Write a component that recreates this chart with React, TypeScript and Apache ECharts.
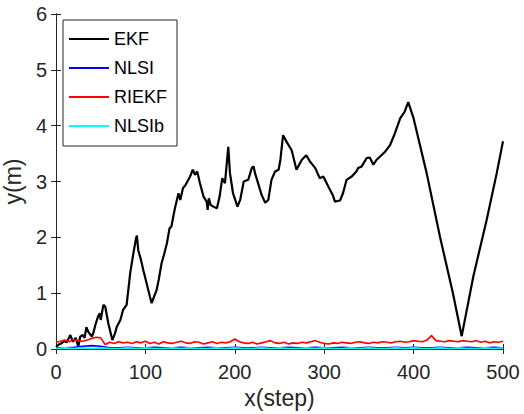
import React, { useEffect, useRef } from "react";
import * as echarts from "echarts";

const seriesNames = ["EKF", "NLSI", "RIEKF", "NLSIb"];
const seriesColors = ["#000000", "#0000ff", "#ff0000", "#00ffff"];

const xTicks = [0, 100, 200, 300, 400, 500];
const yTicks = [0, 1, 2, 3, 4, 5, 6];

// EKF: [step, y]
const ekf: [number, number][] = [
  [0, 0.04], [3, 0.08], [6, 0.1], [9, 0.14], [12, 0.12], [16, 0.25], [19, 0.13], [22, 0.2],
  [25, 0.04], [27, 0.22], [30, 0.25], [32, 0.2], [34, 0.39], [36, 0.31], [40, 0.22], [42, 0.3],
  [44, 0.43], [47, 0.58], [49, 0.64], [50, 0.52], [53, 0.79], [55, 0.76], [58.5, 0.46], [63, 0.16],
  [66, 0.28], [68, 0.4], [72, 0.52], [75, 0.7], [79, 0.79], [83, 1.36], [86.5, 1.71], [89.5, 1.98],
  [90.5, 2.03], [92, 1.77], [95, 1.6], [97.7, 1.41], [101, 1.2], [105, 0.94], [107, 0.82], [110, 0.95],
  [112.6, 1.06], [115, 1.25], [118, 1.53], [121, 1.7], [124, 1.89], [127, 2.16], [129, 2.19], [133, 2.52],
  [137, 2.79], [139, 2.67], [142, 2.88], [145, 2.94], [150, 3.09], [153, 3.21], [155.5, 3.12], [158, 3.18],
  [161, 2.97], [165, 2.73], [168.5, 2.64], [169.6, 2.49], [171, 2.7], [173, 2.58], [176, 2.55], [180, 2.52],
  [183, 2.73], [186, 3.06], [189, 2.97], [192.7, 3.62], [194.6, 3.15], [198, 2.79], [203, 2.55], [206, 2.67],
  [210, 3.0], [215, 3.03], [219, 3.24], [221, 3.27], [222.6, 3.15], [226, 2.97], [230, 2.76], [234, 2.62],
  [237.5, 2.67], [241, 3.03], [245, 3.18], [249, 3.21], [251, 3.39], [254, 3.83], [258, 3.71], [263.6, 3.56],
  [269, 3.21], [275, 3.39], [280, 3.47], [284, 3.36], [290, 3.24], [295, 3.06], [299, 3.09], [304.6, 2.91],
  [309.5, 2.76], [312, 2.64], [317.7, 2.66], [321, 2.79], [325, 3.03], [330.8, 3.09], [336, 3.18], [338, 3.24],
  [342, 3.27], [347.5, 3.42], [351, 3.43], [355, 3.3], [358.7, 3.39], [364, 3.47], [368, 3.53], [373.6, 3.65],
  [379, 3.86], [385, 4.13], [390, 4.25], [394, 4.42], [400, 4.13], [414.6, 3.15], [429.5, 2.01], [444, 1.0],
  [453.8, 0.23], [466.8, 1.3], [481.7, 2.31], [493, 3.15], [500, 3.72],
];

// sampled every 5 steps from 0 to 500
const riekfValues = [
  0.12, 0.14, 0.16, 0.13, 0.17, 0.15, 0.14, 0.16, 0.19, 0.21, 0.2, 0.08, 0.12, 0.1, 0.13, 0.11, 0.12, 0.1, 0.13, 0.11,
  0.14, 0.1, 0.12, 0.09, 0.13, 0.11, 0.1, 0.12, 0.14, 0.11, 0.1, 0.13, 0.12, 0.09, 0.11, 0.13, 0.1, 0.12, 0.11, 0.13,
  0.18, 0.13, 0.11, 0.1, 0.12, 0.09, 0.11, 0.13, 0.15, 0.11, 0.1, 0.12, 0.09, 0.11, 0.1, 0.12, 0.11, 0.13, 0.15, 0.12,
  0.1, 0.09, 0.11, 0.1, 0.12, 0.11, 0.1, 0.12, 0.13, 0.11, 0.1, 0.12, 0.11, 0.13, 0.12, 0.11, 0.13, 0.14, 0.12, 0.13,
  0.15, 0.14, 0.13, 0.16, 0.24, 0.15, 0.14, 0.13, 0.15, 0.14, 0.13, 0.15, 0.14, 0.13, 0.15, 0.12, 0.14, 0.11, 0.13, 0.12,
  0.14,
];

// sampled every 10 steps from 0 to 500
const nlsiValues = [
  0.02, 0.02, 0.03, 0.05, 0.06, 0.05, 0.02, 0.02, 0.03, 0.02, 0.02, 0.03, 0.02, 0.02, 0.03, 0.02, 0.02, 0.03, 0.02, 0.02,
  0.03, 0.02, 0.02, 0.03, 0.02, 0.02, 0.03, 0.02, 0.02, 0.03, 0.02, 0.02, 0.03, 0.02, 0.02, 0.03, 0.02, 0.02, 0.03, 0.02,
  0.03, 0.02, 0.02, 0.03, 0.02, 0.02, 0.03, 0.02, 0.02, 0.03, 0.02,
];

// sampled every 10 steps from 0 to 500
const nlsibValues = [
  0.01, 0.02, 0.01, 0.02, 0.01, 0.02, 0.01, 0.01, 0.02, 0.01, 0.02, 0.01, 0.01, 0.02, 0.01, 0.02, 0.01, 0.01, 0.02, 0.01,
  0.02, 0.01, 0.01, 0.02, 0.01, 0.02, 0.01, 0.01, 0.02, 0.01, 0.02, 0.01, 0.01, 0.02, 0.01, 0.02, 0.01, 0.01, 0.02, 0.01,
  0.02, 0.01, 0.01, 0.02, 0.01, 0.02, 0.01, 0.01, 0.02, 0.01, 0.02,
];

const FONT = "'Liberation Sans', Arial, Helvetica, sans-serif";
const AX = "#262626";

export default function App() {
  const ref = useRef<HTMLDivElement>(null);
  useEffect(() => {
    if (!ref.current) return;
    const chart = echarts.init(ref.current, undefined, { renderer: "svg" });
    const toPairs = (vals: number[], step: number) => vals.map((v, i) => [i * step, v]);
    const lineData = [ekf, toPairs(nlsiValues, 10), toPairs(riekfValues, 5), toPairs(nlsibValues, 10)];
    const baseAxis = {
      type: "value" as const,
      axisLine: { show: true, lineStyle: { color: AX, width: 1 } },
      axisTick: { show: true, inside: true, length: 5, lineStyle: { color: AX } },
      splitLine: { show: false },
    };
    chart.setOption({
      animation: false,
      backgroundColor: "#ffffff",
      grid: { left: 56, top: 14, right: 21, bottom: 65, containLabel: false, outerBoundsMode: "none" },
      legend: {
        data: seriesNames,
        orient: "vertical",
        left: 63,
        top: 20,
        itemWidth: 40,
        itemHeight: 14,
        itemGap: 11,
        padding: [10, 10, 11, 5],
        borderColor: AX,
        borderWidth: 1,
        backgroundColor: "#ffffff",
        itemStyle: { opacity: 0 },
        lineStyle: { width: 2 },
        textStyle: { fontFamily: FONT, fontSize: 18, color: "#000000", padding: [0, 0, 0, 0] },
        selectedMode: false,
      },
      xAxis: [
        {
          ...baseAxis,
          min: 0,
          max: 500,
          interval: 100,
          position: "bottom",
          name: "x(step)",
          nameLocation: "middle",
          nameGap: 36,
          nameTextStyle: { fontFamily: FONT, fontSize: 23, color: AX },
          axisLabel: {
            fontFamily: FONT,
            fontSize: 20,
            color: AX,
            margin: 13,
            formatter: (v: number) => (xTicks.includes(v) ? String(v) : ""),
          },
        },
        {
          ...baseAxis,
          min: 0,
          max: 500,
          interval: 100,
          position: "top",
          axisLabel: { show: false },
        },
      ],
      yAxis: [
        {
          ...baseAxis,
          min: 0,
          max: 6,
          interval: 1,
          position: "left",
          name: "y(m)",
          nameLocation: "middle",
          nameGap: 28,
          nameTextStyle: { fontFamily: FONT, fontSize: 23, color: AX },
          axisLabel: {
            fontFamily: FONT,
            fontSize: 20,
            color: AX,
            margin: 9,
            formatter: (v: number) => (yTicks.includes(v) ? String(v) : ""),
          },
        },
        {
          ...baseAxis,
          min: 0,
          max: 6,
          interval: 1,
          position: "right",
          axisLabel: { show: false },
        },
      ],
      series: seriesNames.map((name, i) => ({
        name,
        type: "line",
        xAxisIndex: 0,
        yAxisIndex: 0,
        data: lineData[i],
        symbol: "none",
        showSymbol: false,
        z: 2 + i,
        lineStyle: { color: seriesColors[i], width: i === 0 ? 2.2 : 1.6 },
        itemStyle: { color: seriesColors[i] },
      })),
    });
    return () => chart.dispose();
  }, []);
  return <div ref={ref} style={{ width: 524, height: 414, position: "absolute", left: 0, top: 0 }} />;
}
